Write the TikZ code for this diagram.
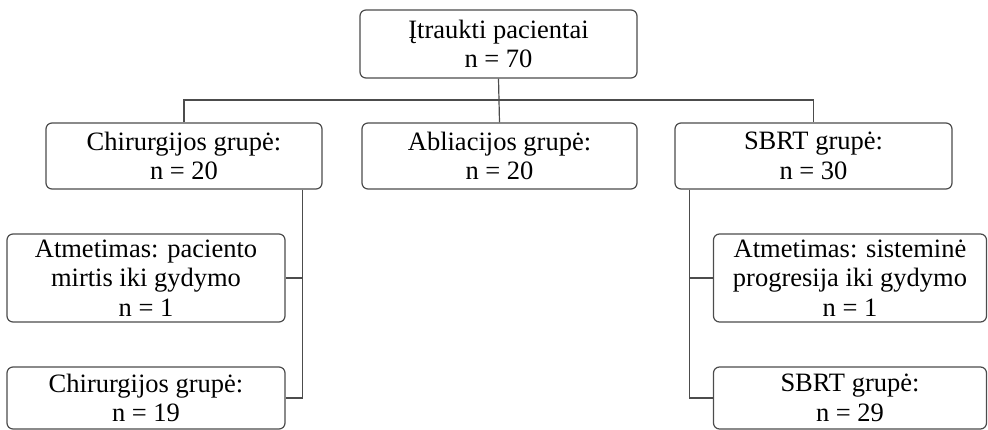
\documentclass[tikz,border=0pt]{standalone}
\usepackage{fontspec}
\setmainfont{Liberation Serif}
\usetikzlibrary{calc}
\begin{document}
\begin{tikzpicture}[x=1pt,y=-1pt,
  box/.style={draw=black!70, line width=1.2pt, rounded corners=6pt, align=center,
    inner sep=0pt, font=\fontsize{26.5}{29.5}\selectfont},
  conn/.style={draw=black!70, line width=1.2pt}]
\useasboundingbox (0,0) rectangle (988,430);
\node[box, minimum width=277, minimum height=68] (top) at (498.5,44) {Įtraukti pacientai\\n = 70};
\node[box, minimum width=276, minimum height=66] (chir) at (184,156) {Chirurgijos grupė:\\n = 20};
\node[box, minimum width=275, minimum height=66] (abl) at (499.5,156) {Abliacijos grupė:\\n = 20};
\node[box, minimum width=277, minimum height=66] (sbrt) at (813.5,156) {SBRT grupė:\\n = 30};
\node[box, minimum width=278, minimum height=88] (atm1) at (146,278) {Atmetimas: paciento\\mirtis iki gydymo\\n = 1};
\node[box, minimum width=278, minimum height=62] (chir2) at (146,398) {Chirurgijos grupė:\\n = 19};
\node[box, minimum width=273, minimum height=88] (atm2) at (850,278) {Atmetimas: sisteminė\\progresija iki gydymo\\n = 1};
\node[box, minimum width=273, minimum height=62] (sbrt2) at (850,398) {SBRT grupė:\\n = 29};
\coordinate (j) at (top.south |- 0,100);
\draw[conn] (top.south) -- (abl.north);
\draw[conn] (chir.north) |- (j) -| (sbrt.north);
\coordinate (lb) at ($(chir.south east)+(-20,0)$);
\draw[conn] (lb) |- (atm1.east);
\draw[conn] (lb) |- (chir2.east);
\coordinate (rb) at ($(sbrt.south west)+(15,0)$);
\draw[conn] (rb) |- (atm2.west);
\draw[conn] (rb) |- (sbrt2.west);
\end{tikzpicture}
\end{document}
